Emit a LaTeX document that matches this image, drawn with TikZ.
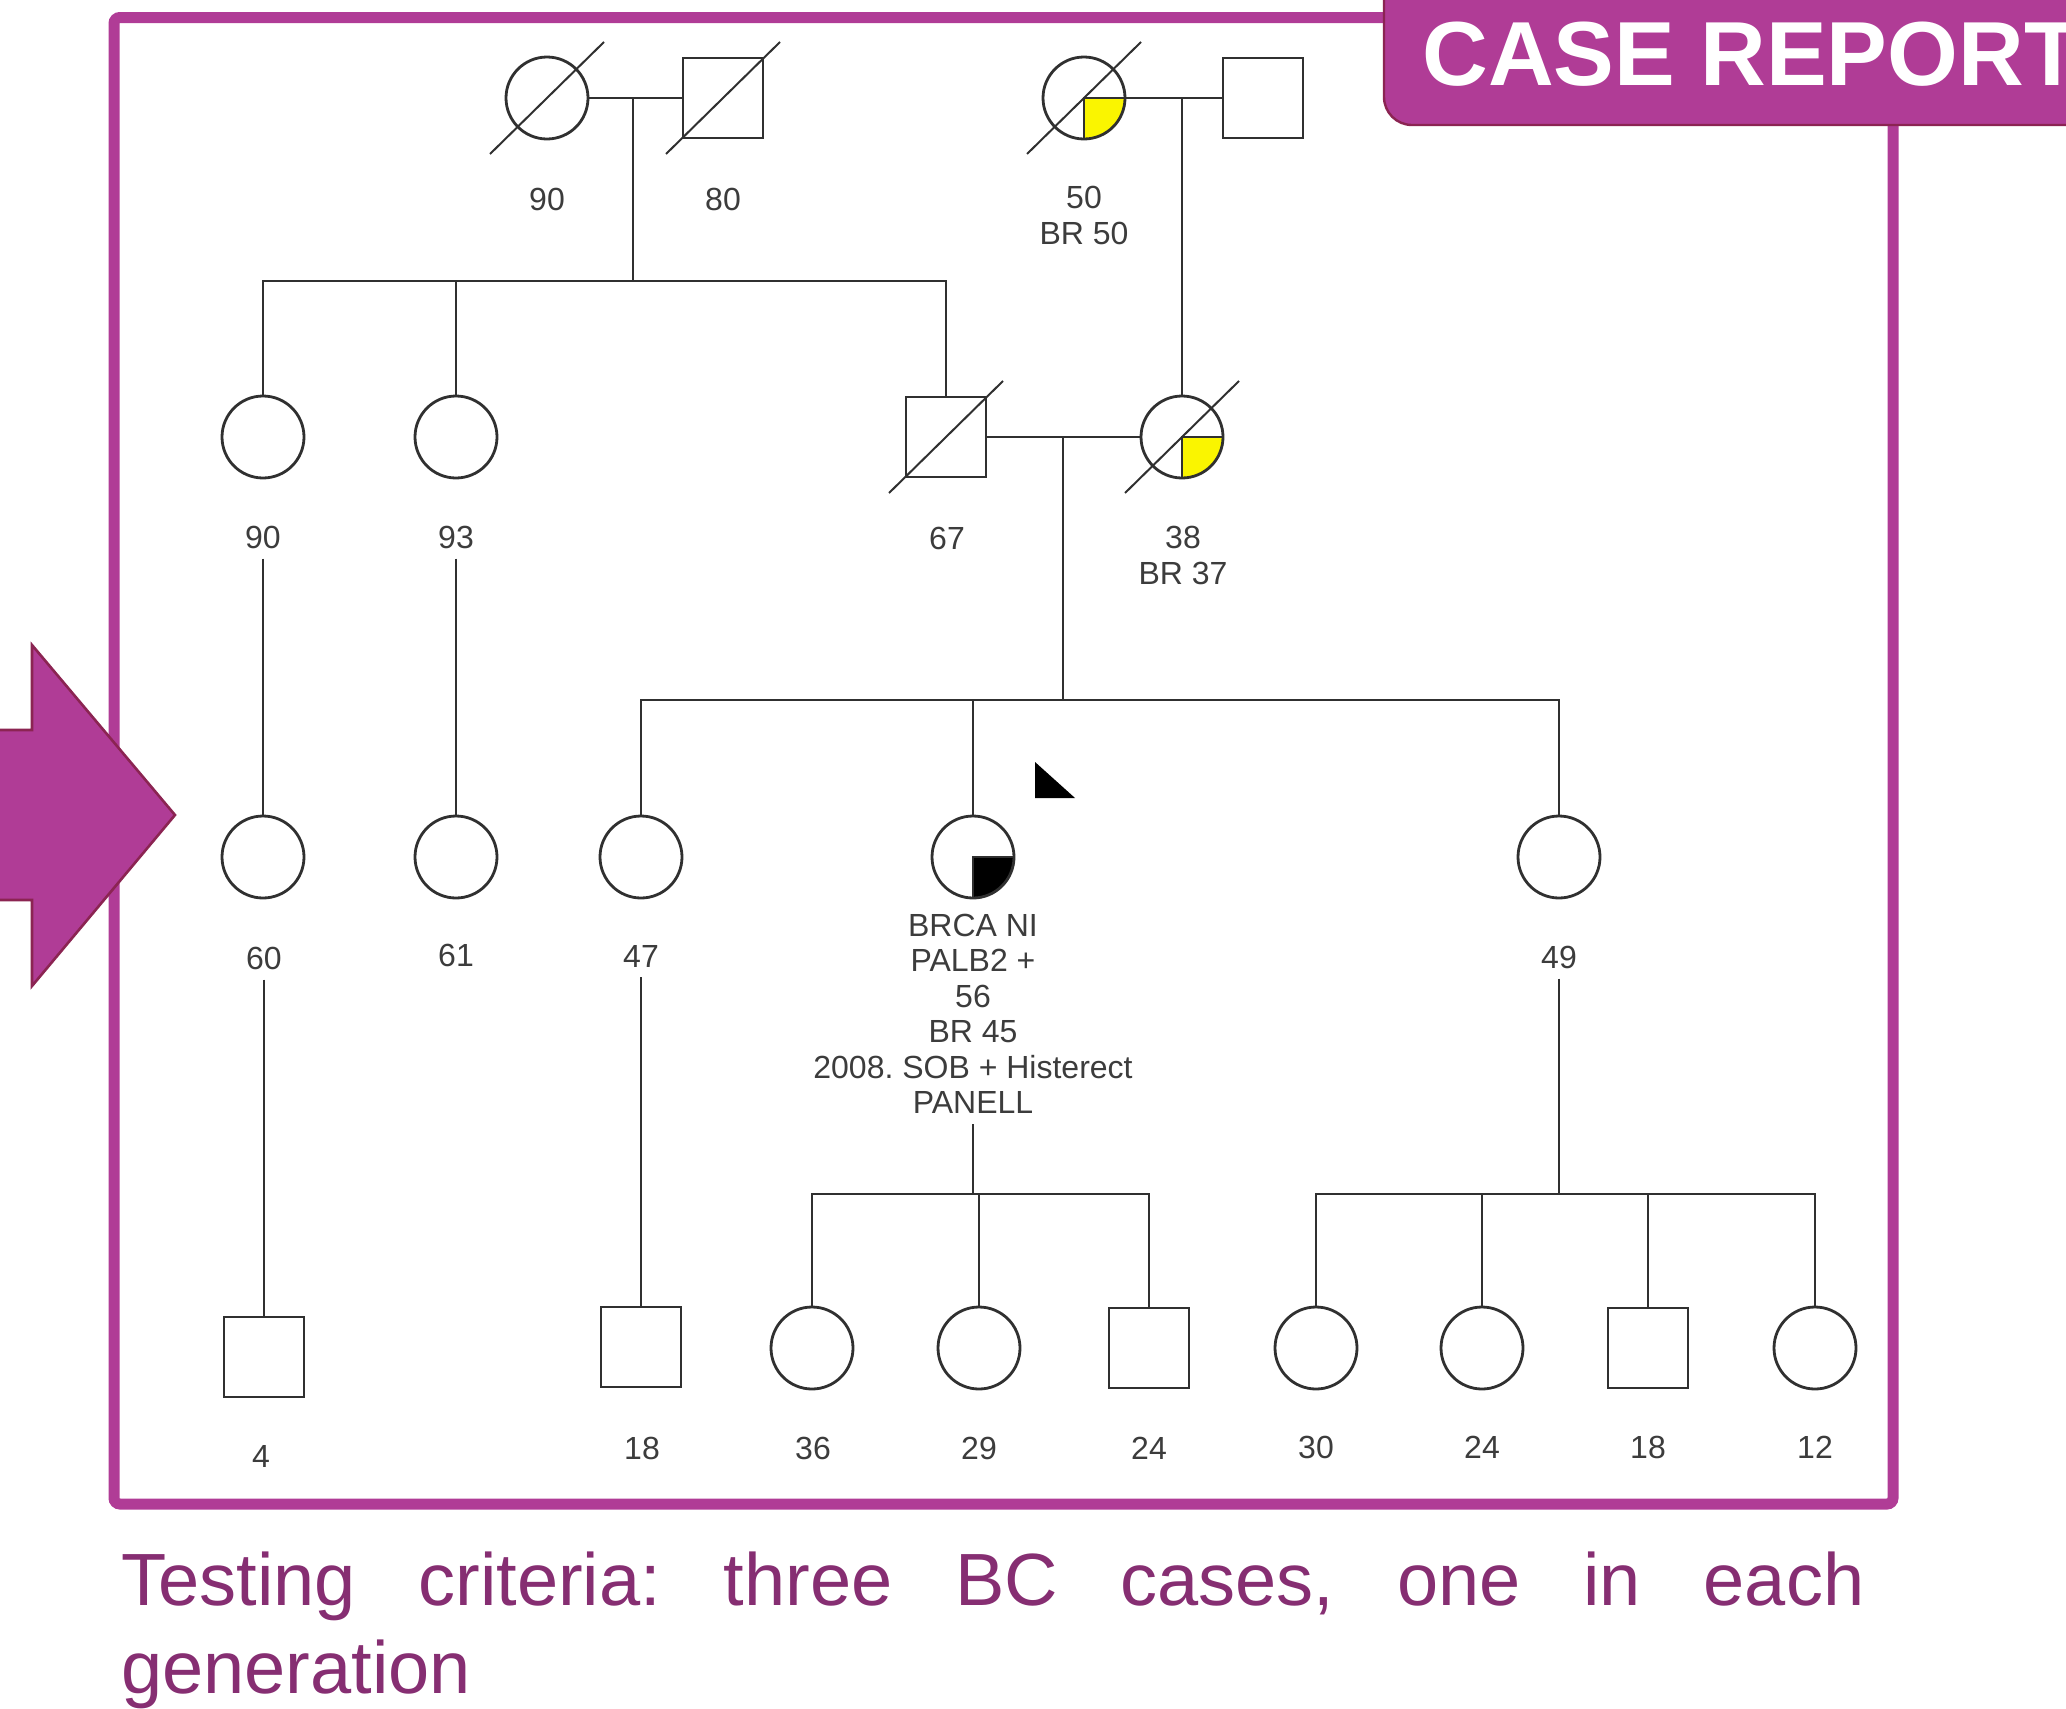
\documentclass[tikz,border=0pt]{standalone}
\usepackage{fontspec}
\setmainfont{Liberation Sans}
\usetikzlibrary{calc}
\definecolor{framepurple}{RGB}{176,60,150}
\definecolor{darkborder}{RGB}{139,36,82}
\definecolor{captioncol}{RGB}{134,46,114}
\definecolor{pedline}{RGB}{48,48,48}
\definecolor{labelgray}{RGB}{60,60,60}
\definecolor{qyellow}{RGB}{250,245,0}
\newcommand\lblfont{\fontsize{16}{17.75}\selectfont}
\frenchspacing
\tikzset{
  fem/.style={circle, draw=pedline, line width=1.4pt, minimum size=41pt, inner sep=0pt, fill=white},
  mal/.style={rectangle, draw=pedline, line width=1.4pt, minimum size=40pt, inner sep=0pt, fill=white},
  lbl/.style={font=\lblfont, text=labelgray, inner sep=0pt, align=center},
  ped/.style={draw=pedline, line width=1.4pt},
  slash/.style={draw=pedline, line width=1pt},
  quadfill/.style={path picture={
      \fill[#1] (path picture bounding box.center) rectangle (path picture bounding box.south east);
      \draw[pedline, line width=1.3pt] (path picture bounding box.east) -| (path picture bounding box.south);}},
  gap/.style={shorten <=5pt},
}
\begin{document}
\begin{tikzpicture}[x=0.5pt,y=-0.5pt]
\useasboundingbox (0,0) rectangle (2066,1708);
\clip (0,0) rectangle (2066,1708);

% frame
\draw[framepurple, line width=5.5pt, rounded corners=3pt] (114,17.5) rectangle (1893,1504);

% CASE REPORT tab
\draw[fill=framepurple, draw=darkborder, line width=1.2pt, rounded corners=14pt] (1384,-40) -- (1384,125) -- (2110,125) -- (2110,-40);
\node[anchor=base west, inner sep=0pt, text=white, font=\bfseries\fontsize{45.5}{50}\selectfont] (tab) at (1422,85) {CASE REPORT};

% left arrow
\draw[fill=framepurple, draw=darkborder, line width=1.3pt, line join=miter] (-20,730) -- (32,730) -- (32,645) -- (175,815) -- (32,986) -- (32,900) -- (-20,900) -- cycle;

% ---------- Generation I ----------
\node[fem] (A) at (547,98) {};
\node[mal] (B) at (723,98) {};
\node[fem, quadfill=qyellow] (C) at (1084,98) {};
\node[mal] (D) at (1263,98) {};
\draw[slash] ($(A.center)+(-57,56)$) -- ($(A.center)+(57,-56)$);
\draw[slash] ($(B.center)+(-57,56)$) -- ($(B.center)+(57,-56)$);
\draw[slash] ($(C.center)+(-57,56)$) -- ($(C.center)+(57,-56)$);
\node[lbl] (lA) at (547,199) {90};
\node[lbl] (lB) at (723,199) {80};
\node[lbl] (lC) at (1084,215.5) {50\\BR 50};

% ---------- Generation II ----------
\node[fem] (E) at (263,437) {};
\node[fem] (F) at (456,437) {};
\node[mal] (G) at (946,437) {};
\node[fem, quadfill=qyellow] (H) at (1182,437) {};
\draw[slash] ($(G.center)+(-57,56)$) -- ($(G.center)+(57,-56)$);
\draw[slash] ($(H.center)+(-57,56)$) -- ($(H.center)+(57,-56)$);
\node[lbl] (lE) at (263,537) {90};
\node[lbl] (lF) at (456,537) {93};
\node[lbl] (lG) at (947,538) {67};
\node[lbl] (lH) at (1183,555.5) {38\\BR 37};

\coordinate (ab) at (633,98);
\coordinate (sibII) at (633,281);
\draw[ped] (A.east) -- (B.west);
\draw[ped] (ab) -- (sibII);
\draw[ped] (E.north) -- (E.north |- sibII) -- (G.north |- sibII) -- (G.north);
\draw[ped] (F.north) -- (F.north |- sibII);
\draw[ped] (C.east) -- (D.west);
\draw[ped] (H.north |- C.east) -- (H.north);

% ---------- Generation III ----------
\node[fem] (I) at (263,857) {};
\node[fem] (J) at (456,857) {};
\node[fem] (K) at (641,857) {};
\node[fem, quadfill=black] (L) at (973,857) {};
\node[fem] (M) at (1559,857) {};
\fill[black] (1035,762) -- (1035,798) -- (1075,798) -- cycle;
\node[lbl] (lI) at (264,958) {60};
\node[lbl] (lJ) at (456,955) {61};
\node[lbl] (lK) at (641,956) {47};
\node[lbl] (lM) at (1559,957) {49};
\node[lbl] (lL) at (973,1014) {BRCA NI\\PALB2 +\\56\\BR 45\\2008. SOB + Histerect\\PANELL};

\coordinate (gh) at (1063,437);
\coordinate (sibIII) at (1063,700);
\draw[ped] (G.east) -- (H.west);
\draw[ped] (gh) -- (sibIII);
\draw[ped] (K.north) -- (K.north |- sibIII) -- (M.north |- sibIII) -- (M.north);
\draw[ped] (L.north) -- (L.north |- sibIII);
\draw[ped, gap] (lE.south) -- (I.north);
\draw[ped, gap] (lF.south) -- (J.north);

% ---------- Generation IV ----------
\node[mal] (I4) at (264,1357) {};
\node[mal] (K4) at (641,1347) {};
\node[fem] (L4a) at (812,1348) {};
\node[fem] (L4b) at (979,1348) {};
\node[mal] (L4c) at (1149,1348) {};
\node[fem] (M4a) at (1316,1348) {};
\node[fem] (M4b) at (1482,1348) {};
\node[mal] (M4c) at (1648,1348) {};
\node[fem] (M4d) at (1815,1348) {};

\node[lbl] (lI4) at (261,1456) {4};
\node[lbl] (lK4) at (642,1448) {18};
\node[lbl] (lL4a) at (813,1448) {36};
\node[lbl] (lL4b) at (979,1448) {29};
\node[lbl] (lL4c) at (1149,1448) {24};
\node[lbl] (lM4a) at (1316,1447) {30};
\node[lbl] (lM4b) at (1482,1447) {24};
\node[lbl] (lM4c) at (1648,1447) {18};
\node[lbl] (lM4d) at (1815,1447) {12};

\coordinate (sibL) at (973,1194);
\coordinate (sibM) at (1559,1194);
\draw[ped, gap] (lI.south) -- (I4.north);
\draw[ped, gap] (lK.south) -- (K4.north);
\draw[ped, gap] (lL.south) -- (sibL);
\draw[ped] (L4a.north) -- (L4a.north |- sibL) -- (L4c.north |- sibL) -- (L4c.north);
\draw[ped] (L4b.north) -- (L4b.north |- sibL);
\draw[ped, gap] (lM.south) -- (sibM);
\draw[ped] (M4a.north) -- (M4a.north |- sibM) -- (M4d.north |- sibM) -- (M4d.north);
\draw[ped] (M4b.north) -- (M4b.north |- sibM);
\draw[ped] (M4c.north) -- (M4c.north |- sibM);

% caption
\node[anchor=base west, inner sep=0pt, text=captioncol, font=\fontsize{37}{44}\selectfont] (cap1) at (121,1605)
  {\hbox to 871.5pt{Testing\hfill criteria:\hfill three\hfill BC\hfill cases,\hfill one\hfill in\hfill each}};
\node[anchor=base west, inner sep=0pt, text=captioncol, font=\fontsize{37}{44}\selectfont] (cap2) at (121,1693) {generation};
\end{tikzpicture}
\end{document}
